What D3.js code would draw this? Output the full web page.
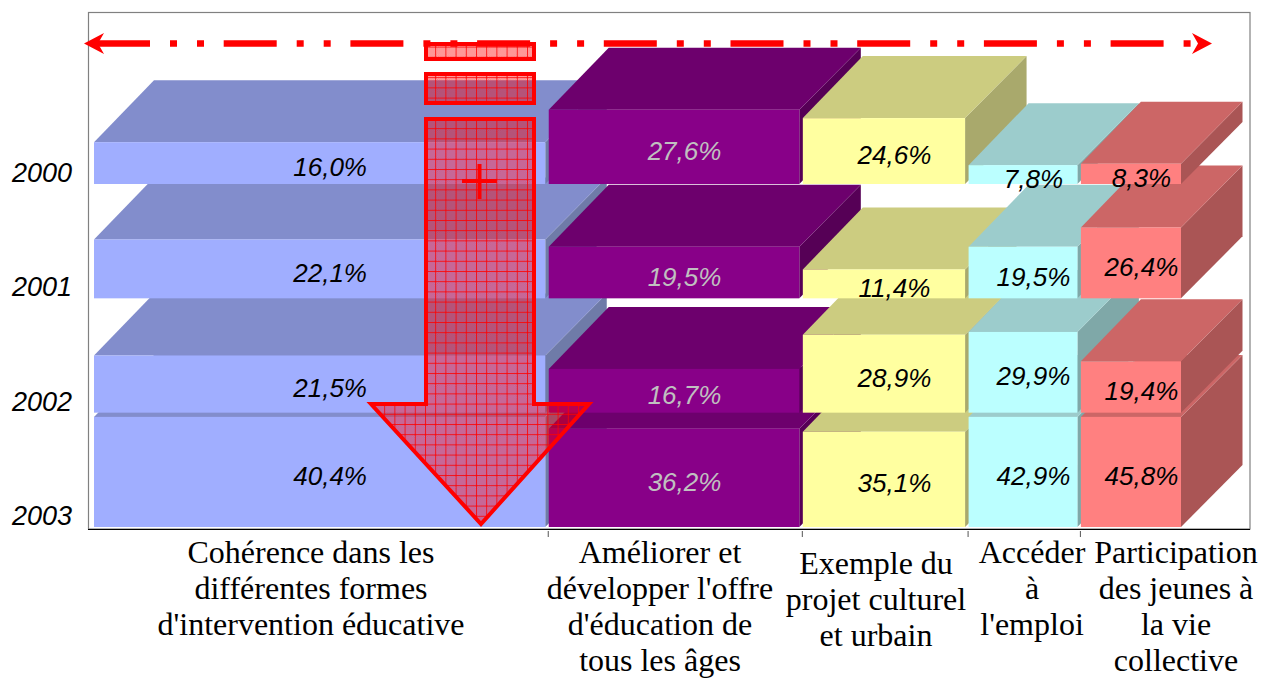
<!DOCTYPE html>
<html>
<head>
<meta charset="utf-8">
<script src="https://cdn.jsdelivr.net/npm/d3@7"></script>
<style>
  html, body { margin: 0; padding: 0; background: #fff; }
  svg { display: block; }
  .year { font-family: "Liberation Sans", Arial, sans-serif; font-style: italic; font-size: 27px; }
  .val { font-family: "Liberation Sans", Arial, sans-serif; font-style: italic; font-size: 26px; }
  .cat { font-family: "Liberation Serif", "Times New Roman", serif; font-size: 32px; fill: #000; }
</style>
</head>
<body>
<script>
var width = 1273,
    height = 679;

var years = ["2000", "2001", "2002", "2003"];

// part of the total width taken by each column
var columnShares = [41.7, 23.3, 15.2, 10.3, 9.5];

var coherence = [16.0, 22.1, 21.5, 40.4],
    ameliorer = [27.6, 19.5, 16.7, 36.2],
    exemple = [24.6, 11.4, 28.9, 35.1],
    acceder = [7.8, 19.5, 29.9, 42.9],
    participation = [8.3, 26.4, 19.4, 45.8];

var series = [coherence, ameliorer, exemple, acceder, participation];

var categoryLines = [
  ["Cohérence dans les", "différentes formes", "d'intervention éducative"],
  ["Améliorer et", "développer l'offre", "d'éducation de", "tous les âges"],
  ["Exemple du", "projet culturel", "et urbain"],
  ["Accéder", "à", "l'emploi"],
  ["Participation", "des jeunes à", "la vie", "collective"]
];

var frontColors = ["#A0AEFF", "#880088", "#FFFFA0", "#BBFFFF", "#FF8080"],
    topColors = ["#828DCC", "#6D006D", "#CCCC80", "#9CCCCC", "#CC6666"],
    sideColors = ["#6F7BA8", "#560056", "#A9A96C", "#7FA8A8", "#AA5555"],
    labelColors = ["#000", "#C0C0C0", "#000", "#000", "#000"];

var edges = d3.cumsum([0].concat(columnShares));

var x = d3.scaleLinear().domain([0, 100]).range([94, 1184.5]);
var baseY = d3.scalePoint().domain(years).range([184, 527]);
var barH = d3.scaleLinear().domain([1.07, 100]).range([0, 277]);

// the 2003 row is cut off under the 2002 row in the original
var rowCap = 40.4;
var gap = 3.5, depthX = 61.5, depthY = 62;

var svg = d3.select("body").append("svg")
  .attr("width", width)
  .attr("height", height);

var defs = svg.append("defs");

var fine = defs.append("pattern")
  .attr("id", "grid")
  .attr("patternUnits", "userSpaceOnUse")
  .attr("x", 425).attr("y", 118)
  .attr("width", 10.2).attr("height", 10.2);
fine.append("rect").attr("width", 10.2).attr("height", 10.2).attr("fill", "url(#dither)");
fine.append("path").attr("d", "M0,0.5H10.2M0.5,0V10.2").attr("stroke", "#f00").attr("stroke-width", 0.8);

var dither = defs.append("pattern")
  .attr("id", "dither")
  .attr("patternUnits", "userSpaceOnUse")
  .attr("width", 2).attr("height", 2);
dither.append("rect").attr("width", 2).attr("height", 2).attr("fill", "#f00").attr("opacity", 0.3);
dither.append("rect").attr("width", 1).attr("height", 1).attr("fill", "#f00").attr("opacity", 0.3);
dither.append("rect").attr("x", 1).attr("y", 1).attr("width", 1).attr("height", 1).attr("fill", "#f00").attr("opacity", 0.3);

svg.append("rect")
  .attr("x", 88.5).attr("y", 12.5)
  .attr("width", 1161.5).attr("height", 516.5)
  .attr("fill", "none")
  .attr("stroke", "#808080")
  .attr("stroke-width", 1.2);

// build one cell per year and column, back row first
var cells = [];
d3.range(years.length - 1, -1, -1).forEach(function(r) {
  series.forEach(function(values, c) {
    cells.push({
      row: r,
      col: c,
      value: values[r],
      x0: x(edges[c]),
      x1: x(edges[c + 1]) - gap,
      y0: baseY(years[r]),
      y1: baseY(years[r]) - barH(Math.min(values[r], rowCap))
    });
  });
});

var bars = svg.append("g").attr("class", "bars")
  .selectAll("g")
  .data(cells)
  .enter().append("g");

bars.append("path")
  .attr("fill", function(d) { return sideColors[d.col]; })
  .attr("d", function(d) {
    return "M" + d.x1 + "," + d.y0 + "L" + d.x1 + "," + d.y1 +
      "L" + (d.x1 + depthX) + "," + (d.y1 - depthY) +
      "L" + (d.x1 + depthX) + "," + (d.y0 - depthY) + "Z";
  });

bars.append("path")
  .attr("fill", function(d) { return topColors[d.col]; })
  .attr("d", function(d) {
    return "M" + d.x0 + "," + d.y1 + "L" + d.x1 + "," + d.y1 +
      "L" + (d.x1 + depthX) + "," + (d.y1 - depthY) +
      "L" + (d.x0 + depthX - 1.5) + "," + (d.y1 - depthY) + "Z";
  });

bars.append("rect")
  .attr("x", function(d) { return d.x0; })
  .attr("y", function(d) { return d.y1; })
  .attr("width", function(d) { return d.x1 - d.x0; })
  .attr("height", function(d) { return d.y0 - d.y1; })
  .attr("fill", function(d) { return frontColors[d.col]; });

svg.append("g").attr("class", "labels")
  .selectAll("text")
  .data(cells)
  .enter().append("text")
    .attr("class", "val")
    .attr("text-anchor", "middle")
    .attr("x", function(d) { return (d.x0 + d.x1) / 2 + 10.5; })
    .attr("y", function(d) { return (d.y0 + d.y1) / 2 + 13; })
    .attr("fill", function(d) { return labelColors[d.col]; })
    .text(function(d) { return d.value.toFixed(1).replace(".", ",") + "%"; });

svg.append("g")
  .selectAll("text")
  .data(years)
  .enter().append("text")
    .attr("class", "year")
    .attr("text-anchor", "end")
    .attr("x", 72)
    .attr("y", function(d) { return baseY(d) - 2; })
    .text(function(d) { return d; });

svg.append("line")
  .attr("x1", 88).attr("x2", 1250)
  .attr("y1", 529.5).attr("y2", 529.5)
  .attr("stroke", "#000")
  .attr("stroke-width", 1.2);

var axis = d3.axisBottom(x)
  .tickValues(edges.slice(1, -1))
  .tickSize(6)
  .tickFormat("");

svg.append("g")
  .attr("transform", "translate(-1,531)")
  .call(axis)
  .call(function(g) { g.select(".domain").remove(); })
  .selectAll("line").attr("stroke", "#555");

// category captions, all centred by hand because the original ones overflow their columns
var catCenters = [311, 660, 876, 1032, 1176],
    catFirstLine = [563, 563, 574, 563, 563];

var cats = svg.append("g").selectAll("text")
  .data(categoryLines)
  .enter().append("text")
    .attr("class", "cat")
    .attr("text-anchor", "middle");

cats.selectAll("tspan")
  .data(function(d, i) { return d.map(function(t, j) { return {t: t, i: i, j: j}; }); })
  .enter().append("tspan")
    .attr("x", function(d) { return catCenters[d.i]; })
    .attr("y", function(d) { return catFirstLine[d.i] + d.j * 36; })
    .text(function(d) { return d.t; });

// red overlay: dash-dot double arrow
var overlay = svg.append("g");

overlay.append("line")
  .attr("x1", 97).attr("x2", 1192)
  .attr("y1", 43.5).attr("y2", 43.5)
  .attr("stroke", "#f00")
  .attr("stroke-width", 6.5)
  .attr("stroke-dasharray", "53,20,7,20,7,19.7");

overlay.append("path")
  .attr("fill", "#f00")
  .attr("d", "M84,43.5L104,33L98,43.5L104,54Z");

overlay.append("path")
  .attr("fill", "#f00")
  .attr("d", "M1212,43.5L1192,33L1198,43.5L1192,54Z");

// big hatched down arrow
var hatched = [
  "M426,44H534V59H426Z",
  "M426,74H534V103H426Z",
  "M426,119H534V404H589L481,524L371,404H426Z"
];

overlay.selectAll("path.block")
  .data(hatched)
  .enter().append("path")
    .attr("class", "block")
    .attr("d", function(d) { return d; })
    .attr("fill", "url(#grid)")
    .attr("stroke", "#f00")
    .attr("stroke-width", 4);

overlay.append("path")
  .attr("d", "M479.5,164V199M462,181H497")
  .attr("fill", "none")
  .attr("stroke", "#f00")
  .attr("stroke-width", 4);
</script>
</body>
</html>
